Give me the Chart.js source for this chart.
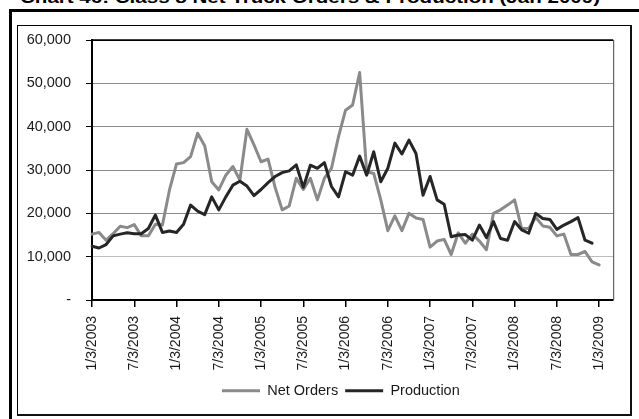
<!DOCTYPE html>
<html><head><meta charset="utf-8">
<script src="https://cdn.jsdelivr.net/npm/chart.js@4.4.0/dist/chart.umd.min.js"></script>
<style>
html,body{margin:0;padding:0;background:#fff;width:639px;height:419px;overflow:hidden;}
#title{position:absolute;left:20px;top:-10px;font:bold 16px "Liberation Sans",Arial,sans-serif;line-height:16px;white-space:nowrap;transform-origin:0 0;color:#000;}
#outerL{position:absolute;left:9px;top:9px;width:3px;height:420px;background:#000;}
#outerT{position:absolute;left:9px;top:9px;width:640px;height:2.5px;background:#000;}
#inner{position:absolute;left:17px;top:25px;width:612px;height:388px;border-left:1px solid #000;border-top:1px solid #000;border-right:2px solid #111;border-bottom:2px solid #111;}
canvas{position:absolute;left:0;top:0;}
</style></head>
<body>
<div id="title">Chart 46: Class 8 Net Truck Orders &amp; Production (Jan 2009)</div>
<div id="outerL"></div><div id="outerT"></div><div id="inner"></div>
<canvas id="c" width="639" height="419"></canvas>
<script>
const categories = [
 '1/3/2003','2/3/2003','3/3/2003','4/3/2003','5/3/2003','6/3/2003','7/3/2003','8/3/2003','9/3/2003','10/3/2003','11/3/2003','12/3/2003',
 '1/3/2004','2/3/2004','3/3/2004','4/3/2004','5/3/2004','6/3/2004','7/3/2004','8/3/2004','9/3/2004','10/3/2004','11/3/2004','12/3/2004',
 '1/3/2005','2/3/2005','3/3/2005','4/3/2005','5/3/2005','6/3/2005','7/3/2005','8/3/2005','9/3/2005','10/3/2005','11/3/2005','12/3/2005',
 '1/3/2006','2/3/2006','3/3/2006','4/3/2006','5/3/2006','6/3/2006','7/3/2006','8/3/2006','9/3/2006','10/3/2006','11/3/2006','12/3/2006',
 '1/3/2007','2/3/2007','3/3/2007','4/3/2007','5/3/2007','6/3/2007','7/3/2007','8/3/2007','9/3/2007','10/3/2007','11/3/2007','12/3/2007',
 '1/3/2008','2/3/2008','3/3/2008','4/3/2008','5/3/2008','6/3/2008','7/3/2008','8/3/2008','9/3/2008','10/3/2008','11/3/2008','12/3/2008',
 '1/3/2009','2/3/2009','3/3/2009'
];
const netOrders = [
 15200,15600,13800,15300,17000,16700,17400,14800,14800,17500,17300,25400,
 31400,31700,33100,38500,35600,27300,25400,28800,30800,27700,39400,35800,
 31900,32500,26000,20800,21700,28100,25500,28100,23100,28100,30400,37700,
 43800,45000,52500,29600,29200,23100,16000,19400,16000,20000,18900,18600,
 12200,13600,14000,10500,15500,13100,15200,13600,11600,20000,20800,21900,
 23100,16500,16500,19100,17100,16800,14800,15200,10500,10500,11200,8800,
 8100
];
const production = [
 12400,12000,12800,14800,15200,15500,15300,15300,16500,19600,15600,15900,
 15600,17500,21900,20500,19700,23800,20800,23800,26500,27400,26300,24100,
 25500,27100,28500,29400,29800,31200,26000,31100,30400,31700,26200,23800,
 29600,28800,33200,28800,34200,27300,30400,36200,33700,36900,33800,24200,
 28500,23100,22100,14600,15000,15100,13800,17300,14400,18100,14200,13800,
 18100,16200,15400,20000,18800,18600,16300,17300,18100,19000,13800,13100
];
const yTickStep = 10000;
const yMax = 60000;
const seriesNames = ['Net Orders','Production'];

(function(){
  const t = document.getElementById('title');
  const w = t.getBoundingClientRect().width;
  t.style.transform = 'scaleX(' + (580 / w) + ')';
})();

const FONT = '"Liberation Sans", Arial, sans-serif';

const framePlugin = {
  id: 'frame',
  beforeDatasetsDraw(chart) {
    const {ctx, chartArea: a} = chart;
    ctx.save();
    ctx.strokeStyle = '#000';
    ctx.lineWidth = 1.5;
    ctx.beginPath();
    ctx.moveTo(a.left, a.top); ctx.lineTo(a.right, a.top);
    ctx.stroke();
    ctx.strokeStyle = '#444';
    ctx.lineWidth = 1;
    ctx.beginPath();
    ctx.moveTo(a.right + 0.5, a.top); ctx.lineTo(a.right + 0.5, a.bottom);
    ctx.stroke();
    ctx.restore();
  },
  afterLayout(chart) {
    const lg = chart.legend;
    if (lg) {
      const pad = 7;
      const h = lg.bottom - lg.top;
      lg.left = 222 - pad;
      lg.top = 390.7 - pad - 14.5 / 2;
      lg.bottom = lg.top + h;
    }
  }
};

new Chart(document.getElementById('c'), {
  type: 'line',
  data: {
    labels: categories,
    datasets: [
      { label: seriesNames[0], data: netOrders, borderColor: '#8a8a8a', backgroundColor: '#8a8a8a',
        borderWidth: 3, pointRadius: 0, tension: 0, order: 1, borderJoinStyle: 'round', borderCapStyle: 'round' },
      { label: seriesNames[1], data: production, borderColor: '#262626', backgroundColor: '#262626',
        borderWidth: 3, pointRadius: 0, tension: 0, order: 0, borderJoinStyle: 'round', borderCapStyle: 'round' }
    ]
  },
  options: {
    responsive: false,
    animation: false,
    layout: { padding: { left: 0, top: 40, right: 24, bottom: 0 } },
    plugins: {
      title: { display: false },
      tooltip: { enabled: false },
      legend: {
        position: 'bottom',
        align: 'start',
        labels: {
          boxWidth: 38, boxHeight: 3, padding: 7, color: '#1a1a1a',
          font: { family: FONT, size: 14.5 },
          generateLabels(chart) {
            const items = Chart.defaults.plugins.legend.labels.generateLabels(chart);
            items.sort((a, b) => a.datasetIndex - b.datasetIndex);
            items.forEach(i => { i.lineWidth = 0; i.fillStyle = i.strokeStyle; });
            return items;
          }
        }
      }
    },
    scales: {
      x: {
        type: 'category',
        offset: false,
        border: { color: '#000', width: 2 },
        grid: {
          drawOnChartArea: false, drawTicks: true, tickLength: 7,
          tickColor: (ctx) => (ctx.index % 6 === 0 ? '#000' : 'rgba(0,0,0,0)'),
          lineWidth: 1.5
        },
        ticks: {
          autoSkip: false, maxRotation: 90, minRotation: 90, padding: 9,
          color: '#1a1a1a', font: { family: FONT, size: 14 },
          callback: (v, i) => (i % 6 === 0 ? categories[i] : '')
        },
        afterFit(scale) {
          const lg = scale.chart.legend;
          const lh = lg ? (lg.height || 0) : 0;
          scale.height = 119 - lh;
        }
      },
      y: {
        min: 0, max: yMax,
        border: { color: '#000', width: 2 },
        grid: {
          color: (ctx) => (ctx.tick && ctx.tick.value === 10000 ? '#bdbdbd' : (ctx.tick && ctx.tick.value === yMax ? '#000' : '#8c8c8c')),
          lineWidth: 1, tickLength: 6, tickColor: '#000'
        },
        ticks: {
          stepSize: yTickStep, padding: 15, color: '#1a1a1a', font: { family: FONT, size: 14.5 },
          callback: (v) => (v === 0 ? '-' : Number(v).toLocaleString('en-US'))
        },
        afterFit(scale) { scale.width = 92; }
      }
    }
  },
  plugins: [framePlugin]
});
</script>
</body></html>
